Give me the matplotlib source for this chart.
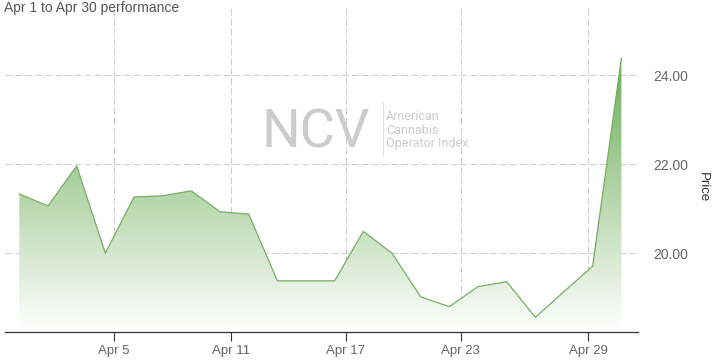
import numpy as np
import matplotlib
matplotlib.use("Agg")
import matplotlib.pyplot as plt
from matplotlib.lines import Line2D

# ---- data ----
dates = ["Apr 1", "Apr 2", "Apr 3", "Apr 4", "Apr 5", "Apr 8", "Apr 9", "Apr 10",
         "Apr 11", "Apr 12", "Apr 15", "Apr 16", "Apr 17", "Apr 18", "Apr 19",
         "Apr 22", "Apr 23", "Apr 24", "Apr 25", "Apr 26", "Apr 29", "Apr 30"]
prices = [21.33, 21.06, 21.96, 20.00, 21.26, 21.29, 21.40, 20.93, 20.88, 19.38,
          19.38, 19.38, 20.49, 20.00, 19.02, 18.80, 19.25, 19.36, 18.56, 19.14,
          19.71, 24.38]
tick_labels = ["Apr 5", "Apr 11", "Apr 17", "Apr 23", "Apr 29"]
y_ticks = [20, 22, 24]

W, H = 712, 362
fig = plt.figure(figsize=(W / 100, H / 100), dpi=100)
fig.patch.set_facecolor("white")

left, right, top, bottom = 5, 638, 6, 331.7
ax = fig.add_axes([left / W, 1 - bottom / H, (right - left) / W, (bottom - top) / H])

x = np.arange(len(prices))
y = np.array(prices)

# ordinal axis: tick positions between trading-day slots
tick_pos = [3.31, 7.37, 11.38, 15.40, 19.85]

x0, x1 = -0.499, 21.58
ybot, ytop = 18.238, 25.55
ax.set_xlim(x0, x1)
ax.set_ylim(ybot, ytop)

# gradient fill under the line
poly = ax.fill_between(x, y, ybot, color="none", lw=0)
ymax = y.max()
n = 256
t = np.linspace(0, 1, n)[:, None]  # 0 top -> 1 bottom
c0 = np.array([106, 173, 85]) / 255.0
rgb = c0[None, :] * (1 - t) + np.ones(3)[None, :] * t
img = np.repeat(rgb[:, None, :], 2, axis=1)
im = ax.imshow(img, extent=[x0, x1, ybot, ymax], origin="upper", aspect="auto",
               interpolation="bilinear", zorder=1)
im.set_clip_path(poly.get_paths()[0], transform=ax.transData)

ax.plot(x, y, color="#78ad66", lw=0.9, zorder=3, solid_joinstyle="round")

# grid
grid_c = "#cccccc"
for tp in tick_pos:
    ax.add_line(Line2D([tp, tp], [ybot, ytop], color=grid_c, lw=0.75,
                       dashes=(6.5, 3), zorder=0.5))
for yt in y_ticks:
    ax.add_line(Line2D([x0, x1], [yt, yt], color=grid_c, lw=0.75,
                       dashes=(6.5, 3), zorder=0.5))

# axes styling
for s in ["top", "right", "left"]:
    ax.spines[s].set_visible(False)
ax.spines["bottom"].set_color("#333333")
ax.spines["bottom"].set_linewidth(0.9)
ax.set_xticks(tick_pos)
ax.set_xticklabels(tick_labels)
ax.tick_params(axis="x", length=6.5, width=0.8, color="#333333", pad=3,
               labelsize=9.5, labelcolor="#666666")
ax.yaxis.tick_right()
ax.set_yticks(y_ticks)
ax.set_yticklabels([f"{v:.2f}" for v in y_ticks])
ax.tick_params(axis="y", length=0, pad=11, labelsize=10, labelcolor="#666666")
for lbl in ax.get_xticklabels() + ax.get_yticklabels():
    lbl.set_fontfamily("Liberation Sans")

# watermark
wm = "#cccccc"
fig.text(261 / W, 1 - 147 / H, "NCV", fontsize=39, color=wm, family="Roboto",
         ha="left", va="baseline", zorder=0)
fig.add_artist(Line2D([383 / W, 383 / W], [1 - 103 / H, 1 - 155 / H],
                      color="#dddddd", lw=0.8, transform=fig.transFigure))
for i, line in enumerate(["American", "Cannabis", "Operator Index"]):
    fig.text(386 / W, 1 - (117 + 13.3 * i) / H, line, fontsize=9, color=wm,
             family="Roboto", ha="left", va="center")

# title and axis title
fig.text(4 / W, 1 - 8 / H, "Apr 1 to Apr 30 performance", fontsize=10,
         color="#555555", family="Liberation Sans", ha="left", va="center")
fig.text(703 / W, 1 - 187 / H, "Price", fontsize=9.5, color="#333333",
         family="Liberation Sans", rotation=270, ha="center", va="center")

fig.savefig("out.png", dpi=100)
